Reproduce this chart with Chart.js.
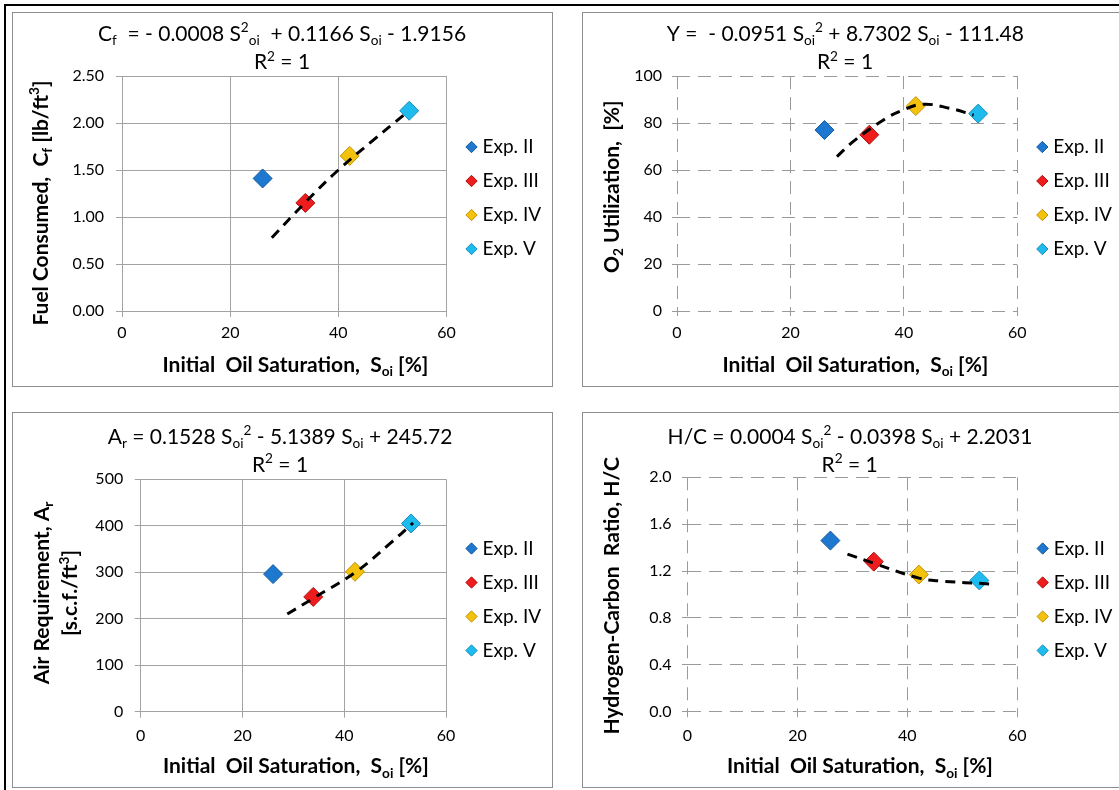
<!DOCTYPE html>
<html>
<head>
<meta charset="utf-8">
<script src="https://cdn.jsdelivr.net/npm/chart.js@4.4.1/dist/chart.umd.min.js"></script>
<style>
  body { margin: 0; background: #fff; width: 1119px; height: 790px; overflow: hidden; position: relative; }
  .frame { position: absolute; left: 4px; top: 4px; width: 1200px; height: 900px; border-top: 2px solid #000; border-left: 2px solid #000; }
  .box { position: absolute; border: 1px solid #8e8e8e; box-sizing: border-box; }
  canvas { position: absolute; }
</style>
</head>
<body>
<div class="frame"></div>
<div class="box" style="left:12px;top:12px;width:541px;height:375px"></div>
<div class="box" style="left:582px;top:12px;width:541px;height:375px"></div>
<div class="box" style="left:12px;top:412px;width:541px;height:376px"></div>
<div class="box" style="left:582px;top:412px;width:541px;height:376px"></div>
<canvas id="fuel" width="540" height="374" style="left:12px;top:12px"></canvas>
<canvas id="oxygen" width="540" height="374" style="left:582px;top:12px"></canvas>
<canvas id="air" width="540" height="375" style="left:12px;top:412px"></canvas>
<canvas id="hc" width="540" height="375" style="left:582px;top:412px"></canvas>
<script>
// experiments and their initial oil saturation, %
const expNames = ["Exp. II", "Exp. III", "Exp. IV", "Exp. V"];
const expColors = ["#1f78cf", "#ee1c1c", "#f4c20d", "#1fbbee"];
const expEdges = ["#155a9e", "#b30f0f", "#c09307", "#1490bd"];
const saturation = [26.0, 33.9, 42.1, 53.1];
const xTicks = [0, 20, 40, 60];

// fuel consumed, lb/ft3
const fuelConsumed = [1.41, 1.15, 1.65, 2.13];
const fuelTrendX = [27.7, 33.8, 40.0, 46.3, 52.2];
const fuelTrendY = [0.78, 1.15, 1.50, 1.81, 2.09];
const fuelTicks = [0, 0.5, 1, 1.5, 2, 2.5];

// O2 utilization, %
const o2Utilization = [77.0, 75.0, 87.2, 84.0];
const o2TrendX = [28.2, 31.2, 36.6, 39.6, 43.3, 48.0, 52.3];
const o2TrendY = [65.7, 72.4, 81.6, 85.3, 88.0, 86.3, 83.4];
const o2Ticks = [0, 20, 40, 60, 80, 100];

// air requirement, scf/ft3
const airRequirement = [296, 247, 301, 405];
const airTrendX = [28.8, 33.9, 42.2, 49.0, 53.5];
const airTrendY = [210, 244, 300, 362, 406];
const airTicks = [0, 100, 200, 300, 400, 500];

// hydrogen-carbon ratio
const hcRatio = [1.46, 1.28, 1.17, 1.12];
const hcTrendX = [29.1, 34.0, 42.1, 46.0, 55.0];
const hcTrendY = [1.345, 1.265, 1.14, 1.115, 1.09];
const hcTicks = [0, 0.4, 0.8, 1.2, 1.6, 2.0];

const xTitle = "Initial  Oil Saturation,  S_{oi} [%]";
const r2Text = "R^{2} = 1";

// "_{..}" is subscript, "^{..}" is superscript
function parseRich(s) {
    const parts = [];
    const re = /([_^])\{([^}]*)\}/g;
    let last = 0, m;
    while ((m = re.exec(s))) {
        if (m.index > last) parts.push([s.slice(last, m.index), ""]);
        parts.push([m[2], m[1] === "_" ? "sub" : "sup"]);
        last = re.lastIndex;
    }
    if (last < s.length) parts.push([s.slice(last), ""]);
    return parts;
}

function drawRich(ctx, s, cx, cy, size, bold, rotate) {
    const parts = parseRich(s);
    const fontFor = k => (bold ? "bold " : "") + (k ? size * 0.65 : size) + "px Lato";
    let total = 0;
    parts.forEach(([t, k]) => { ctx.font = fontFor(k); total += ctx.measureText(t).width; });
    ctx.save();
    ctx.translate(cx, cy);
    if (rotate) ctx.rotate(rotate);
    ctx.fillStyle = "#000";
    ctx.textAlign = "left";
    ctx.textBaseline = "alphabetic";
    let x = -total / 2;
    const base = size * 0.36;
    parts.forEach(([t, k]) => {
        ctx.font = fontFor(k);
        const dy = k === "sub" ? size * 0.22 : k === "sup" ? -size * 0.4 : 0;
        ctx.fillText(t, x, base + dy);
        x += ctx.measureText(t).width;
    });
    ctx.restore();
}

function richText(items) {
    return {
        id: "richText",
        afterDraw(chart) {
            items.forEach(it => drawRich(chart.ctx, it.text, it.x, it.y, it.size, it.bold, it.rotate));
        }
    };
}

const measure = document.createElement("canvas").getContext("2d");
function textWidth(text, font) {
    measure.font = font;
    return measure.measureText(text).width;
}

function makeChart(p) {
    const W = 540, H = p.height;
    const fs = 19, lpad = 15, bw = 3;
    const maxText = Math.max(...expNames.map(t => textWidth(t, fs + "px Lato")));
    const legendWidth = lpad + bw + fs / 2 + maxText + 10;
    const legendLeft = p.legendX - lpad - bw / 2;
    const padRight = W - legendWidth - legendLeft;
    const grid = p.dashed ? "#9a9a9a" : "#a3a3a3";
    const dash = p.dashed ? [13, 8] : [];
    const tickFont = { family: "Lato", size: 16 };

    const datasets = expNames.map((name, i) => ({
        label: name,
        data: [{ x: saturation[i], y: p.values[i] }],
        pointStyle: "rectRot",
        pointRadius: 9.5,
        pointHoverRadius: 9.5,
        backgroundColor: expColors[i],
        borderColor: expEdges[i],
        borderWidth: 1,
        xAxisID: "x",
        yAxisID: "y"
    }));
    datasets.push({
        label: "trend",
        data: p.trendX.map((x, i) => ({ x: x, y: p.trendY[i] })),
        showLine: true,
        fill: false,
        borderColor: "#000",
        borderWidth: 3,
        borderDash: [10, 7],
        pointRadius: 0,
        pointHoverRadius: 0,
        tension: 0.4,
        order: -1,
        xAxisID: "x",
        yAxisID: "y"
    });

    new Chart(document.getElementById(p.id), {
        type: "scatter",
        data: { datasets: datasets },
        options: {
            responsive: false,
            animation: false,
            devicePixelRatio: 1,
            events: [],
            layout: { padding: { top: 0, left: 0, right: padRight, bottom: p.padBottom } },
            plugins: {
                legend: {
                    position: "right",
                    align: "center",
                    labels: {
                        usePointStyle: true,
                        boxWidth: bw,
                        boxHeight: 8,
                        padding: lpad,
                        color: "#000",
                        font: { family: "Lato", size: fs },
                        filter: item => item.datasetIndex < 4
                    }
                },
                tooltip: { enabled: false }
            },
            scales: {
                x: {
                    type: "linear",
                    position: "bottom",
                    min: 0,
                    max: 60,
                    afterBuildTicks: s => { s.ticks = xTicks.map(v => ({ value: v })); },
                    ticks: { padding: p.xPad, color: "#000", font: tickFont },
                    grid: { color: grid, tickColor: grid, tickLength: p.xTick },
                    border: { display: !p.dashed, color: grid, dash: dash },
                    afterFit: s => { s.height = H - p.padBottom - p.area.bottom; }
                },
                y: {
                    type: "linear",
                    position: "left",
                    min: p.yTicks[0],
                    max: p.yTicks[p.yTicks.length - 1],
                    afterBuildTicks: s => { s.ticks = p.yTicks.map(v => ({ value: v })); },
                    ticks: { padding: p.yPad, color: "#000", font: tickFont, callback: v => v.toFixed(p.dec) },
                    grid: { color: grid, tickColor: grid, tickLength: p.yTick },
                    border: { display: !p.dashed, color: grid, dash: dash },
                    afterFit: s => { s.width = p.area.left; }
                },
                xTop: {
                    type: "linear",
                    position: "top",
                    grid: { display: false, drawTicks: false },
                    ticks: { display: false },
                    border: { display: false },
                    afterFit: s => { s.height = p.area.top; }
                },
                yRight: {
                    type: "linear",
                    position: "right",
                    grid: { display: false, drawTicks: false },
                    ticks: { display: false },
                    border: { display: false },
                    afterFit: s => { s.width = legendLeft - p.area.right; }
                }
            }
        },
        plugins: [richText(p.texts)]
    });
}

makeChart({
    id: "fuel", height: 374, padBottom: 2, legendX: 452,
    area: { left: 110, right: 427, top: 64, bottom: 299 },
    values: fuelConsumed, trendX: fuelTrendX, trendY: fuelTrendY,
    yTicks: fuelTicks, dec: 2, yPad: 12, yTick: 6, xPad: 6, xTick: 6, dashed: false,
    texts: [
        { text: "C_{f}  = - 0.0008 S^{2}_{oi}  + 0.1166 S_{oi} - 1.9156", x: 270, y: 21.3, size: 21 },
        { text: r2Text, x: 270, y: 49.7, size: 21 },
        { text: xTitle, x: 283.5, y: 352.3, size: 21, bold: true },
        { text: "Fuel Consumed,  C_{f} [lb/ft^{3}]", x: 28, y: 191, size: 21, bold: true, rotate: -Math.PI / 2 }
    ]
});

makeChart({
    id: "oxygen", height: 374, padBottom: 2, legendX: 453,
    area: { left: 95, right: 428, top: 64, bottom: 299 },
    values: o2Utilization, trendX: o2TrendX, trendY: o2TrendY,
    yTicks: o2Ticks, dec: 0, yPad: 10, yTick: 5, xPad: 7, xTick: 5, dashed: true,
    texts: [
        { text: "Y =  - 0.0951 S_{oi}^{2} + 8.7302 S_{oi} - 111.48", x: 263.4, y: 21.3, size: 21 },
        { text: r2Text, x: 263, y: 49.7, size: 21 },
        { text: xTitle, x: 273.5, y: 352.3, size: 21, bold: true },
        { text: "O_{2} Utilization,  [%]", x: 29, y: 174.7, size: 21, bold: true, rotate: -Math.PI / 2 }
    ]
});

makeChart({
    id: "air", height: 375, padBottom: 0, legendX: 452,
    area: { left: 128.7, right: 426.6, top: 67.3, bottom: 299.7 },
    values: airRequirement, trendX: airTrendX, trendY: airTrendY,
    yTicks: airTicks, dec: 0, yPad: 11.5, yTick: 6, xPad: 9, xTick: 6, dashed: false,
    texts: [
        { text: "A_{r} = 0.1528 S_{oi}^{2} - 5.1389 S_{oi} + 245.72", x: 268, y: 24, size: 21 },
        { text: r2Text, x: 268, y: 52, size: 21 },
        { text: xTitle, x: 283.9, y: 353.7, size: 21, bold: true },
        { text: "Air Requirement, A_{r}", x: 29, y: 181, size: 21, bold: true, rotate: -Math.PI / 2 },
        { text: "[s.c.f./ft^{3}]", x: 57.6, y: 181, size: 21, bold: true, rotate: -Math.PI / 2 }
    ]
});

makeChart({
    id: "hc", height: 375, padBottom: 0, legendX: 453.4,
    area: { left: 105.5, right: 428, top: 65.3, bottom: 299.7 },
    values: hcRatio, trendX: hcTrendX, trendY: hcTrendY,
    yTicks: hcTicks, dec: 1, yPad: 10.5, yTick: 5.5, xPad: 9.5, xTick: 5.5, dashed: true,
    texts: [
        { text: "H/C = 0.0004 S_{oi}^{2} - 0.0398 S_{oi} + 2.2031", x: 268, y: 24, size: 21 },
        { text: r2Text, x: 267.6, y: 52, size: 21 },
        { text: xTitle, x: 278, y: 353.7, size: 21, bold: true },
        { text: "Hydrogen-Carbon  Ratio, H/C", x: 29, y: 183.8, size: 21, bold: true, rotate: -Math.PI / 2 }
    ]
});
</script>
</body>
</html>
